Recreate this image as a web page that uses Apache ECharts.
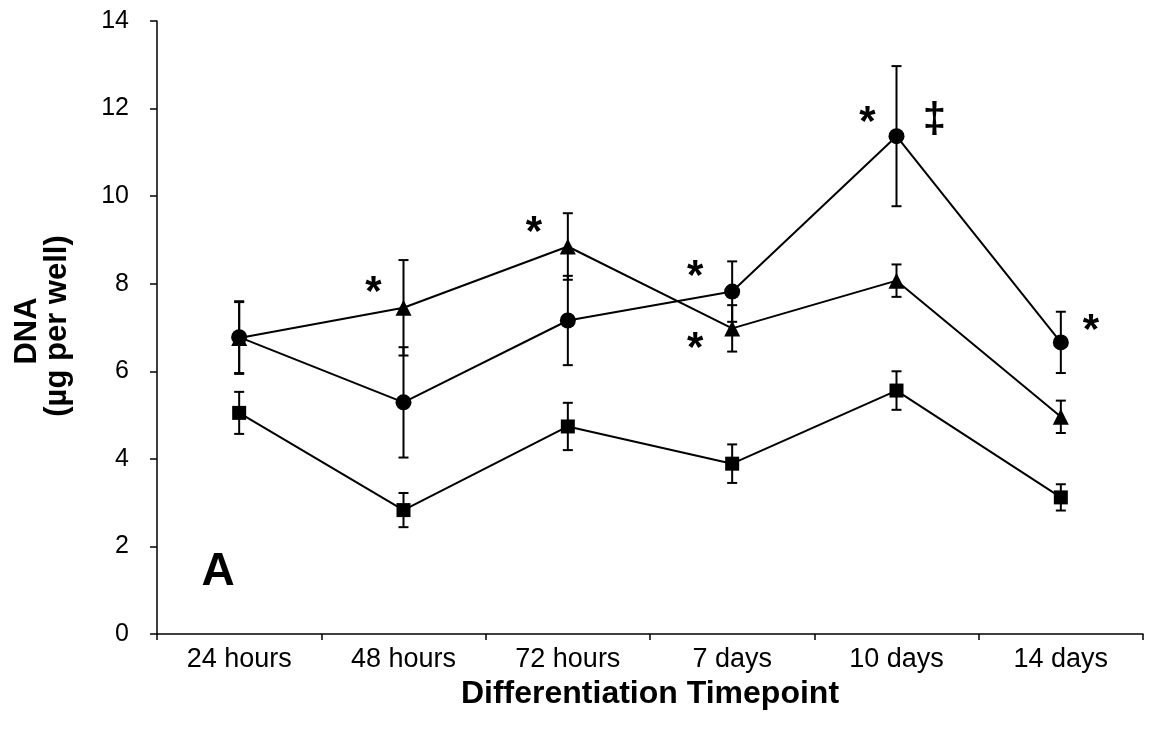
<!DOCTYPE html>
<html>
<head>
<meta charset="utf-8">
<script src="https://cdn.jsdelivr.net/npm/echarts@6/dist/echarts.min.js"></script>
<style>
  html, body { margin: 0; padding: 0; background: #ffffff; }
  #chart { width: 1151px; height: 741px; }
</style>
</head>
<body>
<div id="chart"></div>
<script>
// DNA content per well at each differentiation timepoint (mean and error)
const categories = ['24 hours', '48 hours', '72 hours', '7 days', '10 days', '14 days'];

const circleMean = [6.78, 5.29, 7.16, 7.82, 11.37, 6.66];
const circleErr  = [0.82, 1.26, 1.02, 0.69, 1.60, 0.70];

const triangleMean = [6.76, 7.45, 8.85, 6.98, 8.07, 4.96];
const triangleErr  = [0.82, 1.09, 0.76, 0.53, 0.37, 0.37];

const squareMean = [5.05, 2.83, 4.74, 3.89, 5.56, 3.12];
const squareErr  = [0.48, 0.39, 0.54, 0.44, 0.44, 0.30];

const yMin = 0, yMax = 14, yStep = 2;

// Significance markers: category index, height in data units, glyph
const markCats   = [1, 2, 3, 3, 4, 4, 5];
const markValues = [7.95, 9.34, 8.33, 6.68, 11.85, 11.80, 7.10];
const markTexts  = ['*', '*', '*', '*', '*', '\u2021', '*'];

// Horizontal pixel offsets of the markers from their category centre
const markShift = [-30, -34, -37, -37, -29, 38, 30];

const FONT = "'Liberation Sans', Arial, Helvetica, sans-serif";

const chart = echarts.init(document.getElementById('chart'), null, { renderer: 'canvas' });

function errorBars(mean, err, name) {
  return {
    name: name,
    type: 'custom',
    z: 2,
    silent: true,
    data: mean.map((m, i) => [i, m - err[i], m + err[i]]),
    encode: { x: 0, y: [1, 2] },
    renderItem: function (params, api) {
      const x = api.value(0);
      const lo = api.coord([x, api.value(1)]);
      const hi = api.coord([x, api.value(2)]);
      const w = 5;
      const st = { stroke: '#000', lineWidth: 2 };
      return {
        type: 'group',
        children: [
          { type: 'line', shape: { x1: hi[0], y1: hi[1], x2: lo[0], y2: lo[1] }, style: st },
          { type: 'line', shape: { x1: hi[0] - w, y1: hi[1], x2: hi[0] + w, y2: hi[1] }, style: st },
          { type: 'line', shape: { x1: lo[0] - w, y1: lo[1], x2: lo[0] + w, y2: lo[1] }, style: st }
        ]
      };
    }
  };
}

function meanLine(mean, symbol, size, name) {
  return {
    name: name,
    type: 'line',
    z: 3,
    data: mean,
    symbol: symbol,
    symbolSize: size,
    showAllSymbol: true,
    lineStyle: { color: '#000', width: 2 },
    itemStyle: { color: '#000', borderColor: '#000', borderWidth: 0 },
    emphasis: { disabled: true },
    animation: false
  };
}

const markerSeries = {
  type: 'custom',
  z: 4,
  silent: true,
  data: markCats.map((c, i) => [c, markValues[i], i]),
  encode: { x: 0, y: 1 },
  renderItem: function (params, api) {
    const idx = api.value(2);
    const p = api.coord([api.value(0), api.value(1)]);
    const isStar = markTexts[idx] === '*';
    return {
      type: 'text',
      x: p[0] + markShift[idx],
      y: p[1] + (isStar ? 8 : 3),
      style: {
        text: markTexts[idx],
        font: 'bold 42px ' + FONT,
        fill: '#000',
        textAlign: 'center',
        textVerticalAlign: 'middle'
      }
    };
  }
};

chart.setOption({
  animation: false,
  backgroundColor: '#ffffff',
  grid: { left: 157, right: 8, top: 21, bottom: 107, containLabel: false },
  xAxis: {
    type: 'category',
    data: categories,
    boundaryGap: true,
    axisLine: { lineStyle: { color: '#000', width: 1.5 } },
    axisTick: { show: true, alignWithLabel: false, length: 6, lineStyle: { color: '#000', width: 1.5 } },
    axisLabel: { color: '#000', fontFamily: FONT, fontSize: 27, margin: 12 },
    name: 'Differentiation Timepoint',
    nameLocation: 'middle',
    nameGap: 41,
    nameTextStyle: { color: '#000', fontFamily: FONT, fontSize: 32, fontWeight: 'bold' },
    splitLine: { show: false }
  },
  yAxis: {
    type: 'value',
    min: yMin,
    max: yMax,
    interval: yStep,
    axisLine: { show: true, lineStyle: { color: '#000', width: 1.5 } },
    axisTick: { show: true, length: 7, lineStyle: { color: '#000', width: 1.5 } },
    axisLabel: { color: '#000', fontFamily: FONT, fontSize: 25, margin: 28 },
    splitLine: { show: false }
  },
  graphic: [
    {
      type: 'text', x: 27, y: 331, rotation: Math.PI / 2,
      style: { text: 'DNA', font: 'bold 31px ' + FONT, fill: '#000', textAlign: 'center', textVerticalAlign: 'middle' }
    },
    {
      type: 'text', x: 57, y: 326, rotation: Math.PI / 2,
      style: { text: '(\u00b5g per well)', font: 'bold 31px ' + FONT, fill: '#000', textAlign: 'center', textVerticalAlign: 'middle' }
    },
    {
      type: 'text', x: 218, y: 572,
      style: { text: 'A', font: 'bold 46px ' + FONT, fill: '#000', textAlign: 'center', textVerticalAlign: 'middle' }
    }
  ],
  series: [
    errorBars(squareMean, squareErr, 'square-err'),
    errorBars(circleMean, circleErr, 'circle-err'),
    errorBars(triangleMean, triangleErr, 'triangle-err'),
    meanLine(squareMean, 'rect', 14, 'square'),
    meanLine(circleMean, 'circle', 16, 'circle'),
    meanLine(triangleMean, 'triangle', 16, 'triangle'),
    markerSeries
  ]
});
</script>
</body>
</html>
